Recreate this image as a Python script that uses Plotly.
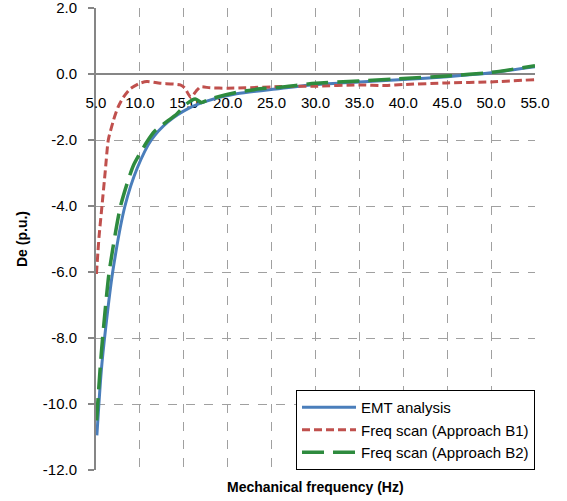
import plotly.graph_objects as go

# EMT analysis
emt_x = [5.1, 5.6, 6.1, 6.9, 8.3, 9.7, 11.3, 13.2, 15.7, 17.6, 21.0, 26.0, 30.0, 35.0, 40.0, 45.0, 50.0, 55.0]
emt_y = [-10.95, -9.0, -7.7, -6.0, -4.0, -2.85, -2.0, -1.45, -1.02, -0.82, -0.6, -0.44, -0.32, -0.24, -0.17, -0.08, 0.04, 0.22]

# Freq scan (Approach B1)
b1_x = [5.05, 5.34, 5.68, 6.06, 6.4, 6.97, 7.5, 8.1, 8.9, 10.0, 10.8, 12.3, 14.6, 15.1, 15.8, 16.4, 16.9, 18.0, 20.0, 22.0, 26.0, 30.0, 35.0, 38.0, 40.0, 45.0, 50.0, 55.0]
b1_y = [-6.06, -4.95, -4.0, -2.93, -2.0, -1.42, -1.01, -0.71, -0.45, -0.28, -0.23, -0.28, -0.33, -0.42, -0.71, -0.52, -0.39, -0.42, -0.43, -0.42, -0.38, -0.37, -0.33, -0.35, -0.32, -0.27, -0.24, -0.17]

# Freq scan (Approach B2)
b2_x = [5.07, 5.45, 5.75, 6.5, 7.8, 9.25, 10.77, 11.7, 14.2, 15.3, 16.3, 17.0, 17.8, 18.5, 21.0, 23.7, 26.0, 30.0, 35.0, 40.0, 45.0, 50.0, 55.0]
b2_y = [-10.5, -9.0, -8.0, -6.0, -4.0, -2.78, -2.07, -1.73, -1.21, -0.91, -0.76, -0.86, -0.78, -0.72, -0.56, -0.45, -0.4, -0.28, -0.21, -0.14, -0.06, 0.05, 0.25]

x_ticks = [5, 10, 15, 20, 25, 30, 35, 40, 45, 50, 55]
x_tick_labels = ["5.0", "10.0", "15.0", "20.0", "25.0", "30.0", "35.0", "40.0", "45.0", "50.0", "55.0"]
y_ticks = [-12, -10, -8, -6, -4, -2, 0, 2]
y_tick_labels = ["-12.0", "-10.0", "-8.0", "-6.0", "-4.0", "-2.0", "0.0", "2.0"]

FONT = "Liberation Sans, Arial, sans-serif"

fig = go.Figure()
fig.add_trace(go.Scatter(x=emt_x, y=emt_y, mode="lines", name="EMT analysis", legendgroup="a",
                         line=dict(color="#4a7ebb", width=3, shape="spline", smoothing=0.8)))
fig.add_trace(go.Scatter(x=b1_x, y=b1_y, mode="lines", name="Freq scan (Approach B1)", legendgroup="b",
                         line=dict(color="#c0504d", width=3, dash="8px,4px", shape="spline", smoothing=0.6)))
fig.add_trace(go.Scatter(x=b2_x, y=b2_y, mode="lines", name="Freq scan (Approach B2)", legendgroup="c",
                         line=dict(color="#2e8b3e", width=3.5, dash="22px,9px", shape="spline", smoothing=0.6)))

fig.update_layout(
    width=567, height=501,
    margin=dict(l=96, r=32, t=8, b=31, autoexpand=False),
    paper_bgcolor="white", plot_bgcolor="white",
    font=dict(family=FONT, size=15, color="black"),
    showlegend=True,
    legend=dict(x=1, y=0, xanchor="right", yanchor="bottom",
                bordercolor="black", borderwidth=1, bgcolor="white",
                font=dict(size=15, family=FONT), traceorder="grouped",
                tracegroupgap=0, itemwidth=54),
    xaxis=dict(range=[5, 55], tickvals=x_ticks, ticktext=x_tick_labels,
               anchor="free", position=12 / 14, automargin=False,
               showline=True, linecolor="#868686", linewidth=2,
               showgrid=True, gridcolor="#a0a0a0", griddash="dash", gridwidth=1,
               zeroline=False, ticks="", ticklabelstandoff=15, ticklabeloverflow="allow",
               layer="below traces", tickfont=dict(size=15)),
    yaxis=dict(range=[-12, 2], tickvals=y_ticks, ticktext=y_tick_labels, automargin=False,
               showline=True, linecolor="#868686", linewidth=2,
               showgrid=True, gridcolor="#a0a0a0", griddash="dash", gridwidth=1,
               zeroline=False, ticks="outside", ticklen=6, tickcolor="#868686", tickwidth=1.5,
               ticklabelstandoff=8, ticklabeloverflow="allow",
               layer="below traces", tickfont=dict(size=15)),
    annotations=[
        dict(text="<b>Mechanical frequency (Hz)</b>", xref="paper", yref="paper",
             x=0.5, y=(470 - 487) / 462, xanchor="center", yanchor="middle",
             showarrow=False, font=dict(size=14, family=FONT)),
        dict(text="<b>De (p.u.)</b>", xref="paper", yref="paper",
             x=(22 - 96) / 439, y=0.5, xanchor="center", yanchor="middle",
             textangle=-90, showarrow=False, font=dict(size=14, family=FONT)),
    ],
)

fig.write_html("out.html", config={"displayModeBar": False},
               post_script="document.body.style.margin='0';")
